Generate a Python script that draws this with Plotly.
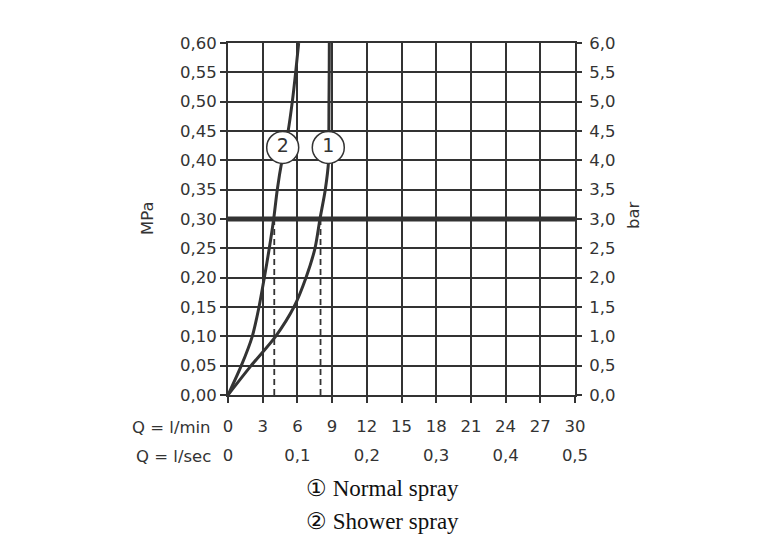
import plotly.graph_objects as go

# ---- data ----
q_lmin_ticks = [0, 3, 6, 9, 12, 15, 18, 21, 24, 27, 30]
q_lsec_ticks = [0, 0.1, 0.2, 0.3, 0.4, 0.5]
q_lsec_text = ["0", "0,1", "0,2", "0,3", "0,4", "0,5"]
mpa_ticks = [0, 0.05, 0.10, 0.15, 0.20, 0.25, 0.30, 0.35, 0.40, 0.45, 0.50, 0.55, 0.60]
mpa_text = ["0,00", "0,05", "0,10", "0,15", "0,20", "0,25", "0,30", "0,35", "0,40", "0,45", "0,50", "0,55", "0,60"]
bar_ticks = [0, 0.5, 1, 1.5, 2, 2.5, 3, 3.5, 4, 4.5, 5, 5.5, 6]
bar_text = ["0,0", "0,5", "1,0", "1,5", "2,0", "2,5", "3,0", "3,5", "4,0", "4,5", "5,0", "5,5", "6,0"]

# curve 1: Normal spray (Q l/min vs MPa)
normal_q = [0, 2.0, 4.12, 5.7, 6.74, 7.52, 7.95, 8.41, 8.7, 8.72, 8.73, 8.75, 8.76]
normal_p = [0, 0.05, 0.10, 0.15, 0.20, 0.25, 0.30, 0.35, 0.40, 0.45, 0.50, 0.55, 0.60]
# curve 2: Shower spray
shower_q = [0, 1.15, 2.1, 2.68, 3.14, 3.57, 3.95, 4.26, 4.67, 5.2, 5.56, 5.85, 6.11]
shower_p = [0, 0.05, 0.10, 0.15, 0.20, 0.25, 0.30, 0.35, 0.40, 0.45, 0.50, 0.55, 0.60]

ref_pressure = 0.30
ref_flows = [4, 8]
label_q = [8.67, 4.73]
label_p = [0.422, 0.422]
label_txt = ["1", "2"]

INK = "#333333"
SANS = "'DejaVu Sans', sans-serif"
SERIF = "'Liberation Serif', 'DejaVu Serif', serif"

fig = go.Figure()

# reference line at 0.3 MPa
fig.add_trace(go.Scatter(x=[q_lmin_ticks[0], q_lmin_ticks[-1]], y=[ref_pressure, ref_pressure],
                         mode="lines", line=dict(color=INK, width=5), hoverinfo="skip", showlegend=False))
# dashed drop lines
for q in ref_flows:
    fig.add_trace(go.Scatter(x=[q, q], y=[0, ref_pressure], mode="lines",
                             line=dict(color=INK, width=1.8, dash="6px,4px"), hoverinfo="skip", showlegend=False))
# curves
fig.add_trace(go.Scatter(x=normal_q, y=normal_p, mode="lines",
                         line=dict(color=INK, width=3, shape="spline", smoothing=0.8),
                         name="Normal spray", showlegend=False))
fig.add_trace(go.Scatter(x=shower_q, y=shower_p, mode="lines",
                         line=dict(color=INK, width=3, shape="spline", smoothing=0.8),
                         name="Shower spray", showlegend=False))
# circled labels
fig.add_trace(go.Scatter(x=label_q, y=label_p, mode="markers+text", text=label_txt,
                         textposition="middle center",
                         textfont=dict(family=SANS, size=19, color=INK),
                         marker=dict(size=32, color="white", line=dict(color=INK, width=1.5)),
                         hoverinfo="skip", showlegend=False))
# invisible traces to activate secondary axes
fig.add_trace(go.Scatter(x=q_lsec_ticks, y=[None] * len(q_lsec_ticks), xaxis="x2", yaxis="y",
                         mode="markers", hoverinfo="skip", showlegend=False))
fig.add_trace(go.Scatter(x=[None] * len(bar_ticks), y=bar_ticks, xaxis="x", yaxis="y2",
                         mode="markers", hoverinfo="skip", showlegend=False))

W, H = 765, 545
L, R, T, B = 228, 190, 43, 95
plot_bottom_px = 395
paper_h = H - T - B
paper_w = W - L - R
ydom0 = (H - B - plot_bottom_px) / paper_h


def px_x(px):
    return (px - L) / paper_w


def px_y(py):
    return (H - B - py) / paper_h


TICKFONT = dict(family=SANS, size=16.5, color=INK)
axis_common = dict(showgrid=True, gridcolor=INK, gridwidth=2, showline=True, linecolor=INK, linewidth=2,
                   mirror=True, ticks="outside", ticklen=6, tickwidth=2, tickcolor=INK, zeroline=False,
                   tickfont=TICKFONT)

fig.update_layout(
    width=W, height=H, margin=dict(l=L, r=R, t=T, b=B),
    paper_bgcolor="white", plot_bgcolor="white",
    xaxis=dict(range=[0, 30], tickvals=q_lmin_ticks, ticktext=[str(v) for v in q_lmin_ticks],
               ticklabelstandoff=9, **axis_common),
    yaxis=dict(range=[0, 0.6], tickvals=mpa_ticks, ticktext=mpa_text, domain=[ydom0, 1], **axis_common),
    yaxis2=dict(range=[0, 6], tickvals=bar_ticks, ticktext=bar_text, overlaying="y", side="right",
                showgrid=False, showline=False, zeroline=False, ticks="outside", ticklen=6, tickwidth=2,
                tickcolor=INK, tickfont=TICKFONT, ticklabelstandoff=4),
    xaxis2=dict(range=[0, 0.5], tickvals=q_lsec_ticks, ticktext=q_lsec_text, overlaying="x",
                anchor="free", position=px_y(443), side="bottom", showgrid=False, showline=False,
                zeroline=False, ticks="", tickfont=TICKFONT),
    annotations=[
        dict(text="Q = l/min", x=px_x(213), y=px_y(427), xref="paper", yref="paper", xanchor="right",
             yanchor="middle", showarrow=False, font=TICKFONT),
        dict(text="Q = l/sec", x=px_x(213), y=px_y(456), xref="paper", yref="paper", xanchor="right",
             yanchor="middle", showarrow=False, font=TICKFONT),
        dict(text="MPa", x=px_x(148), y=px_y(218), xref="paper", yref="paper", textangle=-90,
             xanchor="center", yanchor="middle", showarrow=False, font=TICKFONT),
        dict(text="bar", x=px_x(633), y=px_y(215), xref="paper", yref="paper", textangle=-90,
             xanchor="center", yanchor="middle", showarrow=False, font=TICKFONT),
        dict(text="① Normal spray", x=px_x(304), y=px_y(488), xref="paper", yref="paper", xanchor="left",
             yanchor="middle", showarrow=False, font=dict(family=SERIF, size=23, color="#111111")),
        dict(text="② Shower spray", x=px_x(304), y=px_y(521), xref="paper", yref="paper", xanchor="left",
             yanchor="middle", showarrow=False, font=dict(family=SERIF, size=23, color="#111111")),
    ],
)

fig.write_html("out.html")
